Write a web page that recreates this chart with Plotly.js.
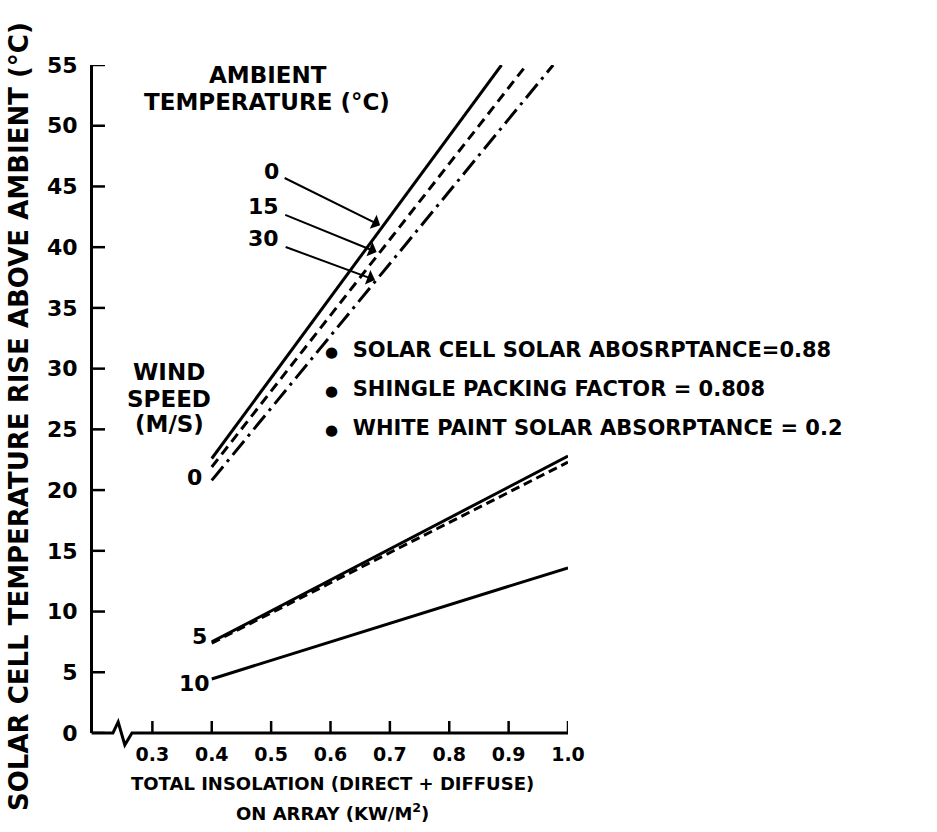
<!DOCTYPE html>
<html>
<head>
<meta charset="utf-8">
<script src="https://cdn.plot.ly/plotly-3.0.1.min.js"></script>
<style>html,body{margin:0;padding:0;background:#fff;}</style>
</head>
<body>
<div id="chart" style="width:937px;height:832px;"></div>
<script>
// ---- data ----
const xTickVals = [0.3, 0.4, 0.5, 0.6, 0.7, 0.8, 0.9, 1.0];
const xTickText = ["0.3", "0.4", "0.5", "0.6", "0.7", "0.8", "0.9", "1.0"];
const yTickVals = [0, 5, 10, 15, 20, 25, 30, 35, 40, 45, 50, 55];

// wind speed 0 m/s, ambient 0 / 15 / 30 °C
const amb0X  = [0.4, 0.888];  const amb0Y  = [22.6, 55];
const amb15X = [0.4, 0.930];  const amb15Y = [21.9, 55];
const amb30X = [0.4, 0.975];  const amb30Y = [20.8, 55];
// wind speed 5 m/s
const w5aX = [0.4, 1.0];  const w5aY = [7.5, 22.8];
const w5bX = [0.4, 1.0];  const w5bY = [7.4, 22.3];
// wind speed 10 m/s
const w10X = [0.4, 1.0];  const w10Y = [4.45, 13.6];

const ambLabels = ["0", "15", "30"];
const ambArrowTips = [[0.6836, 41.8], [0.6777, 39.6], [0.6749, 37.3]];
const windLabels = ["0", "5", "10"];
const notes = [
  "SOLAR CELL SOLAR ABOSRPTANCE=0.88",
  "SHINGLE PACKING FACTOR = 0.808",
  "WHITE PAINT SOLAR ABSORPTANCE = 0.2"
];

// ---- drawing ----
const FONT = "DejaVu Sans";
const f = (size) => ({family: FONT, size: size, color: "#000", weight: 700});

function line(x, y, dash) {
  return {x: x, y: y, type: "scatter", mode: "lines", cliponaxis: false,
          hoverinfo: "skip", line: {color: "#000", width: 3, dash: dash}};
}
const traces = [
  line(amb0X, amb0Y, "solid"),
  line(amb15X, amb15Y, "10px,6px"),
  line(amb30X, amb30Y, "18px,6px,3px,6px"),
  line(w5aX, w5aY, "solid"),
  line(w5bX, w5bY, "9px,5px"),
  line(w10X, w10Y, "solid")
];

const annotations = [];
function txt(x, y, text, size, extra) {
  annotations.push(Object.assign({xref: "paper", yref: "paper", x: x, y: y,
    xanchor: "center", yanchor: "middle", text: text, showarrow: false, font: f(size)}, extra || {}));
}
// y-axis title
txt(-0.1558, 0.4746, "SOLAR CELL TEMPERATURE RISE ABOVE AMBIENT (°C)", 26, {textangle: -90});
// x-axis title
txt(0.5032, -0.0749, "TOTAL INSOLATION (DIRECT + DIFFUSE)", 18);
txt(0.5032, -0.1183, "ON ARRAY (KW/M<sup>2</sup>)", 18);
// ambient temperature heading
txt(0.3684, 0.985, "AMBIENT", 23);
txt(0.3663, 0.9446, "TEMPERATURE (°C)", 23);
// ambient labels with arrows
const ambOffsets = [[-109, -54], [-113, -46], [-111, -41]];
ambLabels.forEach((t, i) => {
  annotations.push({xref: "x", yref: "y", x: ambArrowTips[i][0], y: ambArrowTips[i][1],
    ax: ambOffsets[i][0], ay: ambOffsets[i][1], text: t, font: f(22),
    xanchor: "center", yanchor: "middle",
    showarrow: true, arrowhead: 1, arrowsize: 1.3, arrowwidth: 2, arrowcolor: "#000",
    startstandoff: 5, standoff: 0});
});
// wind speed heading
[["WIND", 0.5404], ["SPEED", 0.5], ["(M/S)", 0.4626]].forEach(([t, y]) => txt(0.16, y, t, 23));
// wind speed labels
const windPos = [[0.2137, 0.3832], [0.2242, 0.1452], [0.2147, 0.0734]];
windLabels.forEach((t, i) => txt(windPos[i][0], windPos[i][1], t, 22));
// bullet notes
const noteY = [0.5734, 0.515, 0.4566];
notes.forEach((t, i) => txt(0.4842, noteY[i],
  "<span style='font-size:15px'>\u25CF</span>\u00a0\u00a0" + t, 21, {xanchor: "left"}));

// x axis line with break mark
const shapes = [{
  type: "path", xref: "paper", yref: "paper",
  path: "M -0.003,0 L 0.042,0 L 0.053,0.0165 L 0.067,-0.018 L 0.082,0 L 1,0",
  line: {color: "#000", width: 3}
}];
// inward tick marks at the axis tick values
const TICK_LEN_X = 12 / 668, TICK_LEN_Y = 12 / 475;
xTickVals.forEach(v => shapes.push({type: "line", xref: "x", yref: "paper",
  x0: v, x1: v, y0: 0, y1: TICK_LEN_X, line: {color: "#000", width: 2.5}}));
yTickVals.forEach(v => shapes.push({type: "line", xref: "paper", yref: "y",
  x0: 0, x1: TICK_LEN_Y, y0: v, y1: v, line: {color: "#000", width: 2.5}}));

const layout = {
  width: 937, height: 832,
  margin: {l: 93, r: 369, t: 65, b: 99, pad: 0},
  paper_bgcolor: "#fff", plot_bgcolor: "#fff",
  showlegend: false,
  xaxis: {range: [0.2, 1.0], tickmode: "array", tickvals: xTickVals, ticktext: xTickText,
    ticks: "", showline: false, showgrid: false, zeroline: false,
    tickfont: f(19), ticklabelstandoff: 8},
  yaxis: {range: [0, 55], tickmode: "array", tickvals: yTickVals,
    ticks: "", showline: true, linewidth: 3, linecolor: "#000",
    showgrid: false, zeroline: false,
    tickfont: f(22), ticklabelstandoff: 8},
  annotations: annotations,
  shapes: shapes
};

Plotly.newPlot("chart", traces, layout, {displayModeBar: false, staticPlot: true});
</script>
</body>
</html>
